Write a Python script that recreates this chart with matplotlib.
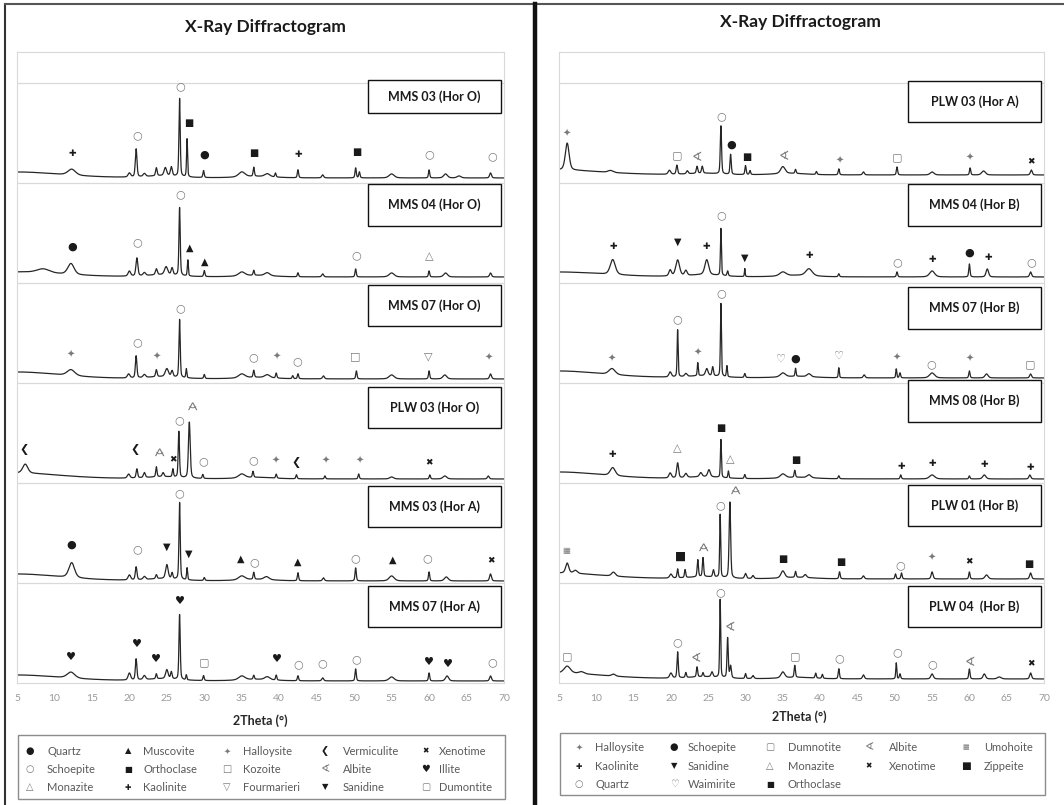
import numpy as np
import matplotlib.pyplot as plt
from matplotlib.patches import Rectangle
from matplotlib.lines import Line2D

plt.rcParams['font.family'] = ['Lato', 'DejaVu Sans']

####################################################
# Data
# peaks: (2theta, height above base, half width) ; first entries = low angle rise / humps
# marks: (mineral, 2theta, height above the trace's grid line)

ticks_2theta = [5, 10, 15, 20, 25, 30, 35, 40, 45, 50, 55, 60, 65, 70]

# ---- left panel, top to bottom
left_samples = ['MMS 03 (Hor O)', 'MMS 04 (Hor O)', 'MMS 07 (Hor O)',
                'PLW 03 (Hor O)', 'MMS 03 (Hor A)', 'MMS 07 (Hor A)']
left_base = [0.05, 0.06, 0.04, 0.04, 0.02, 0.02]

mms03_o_peaks = [(5, 0.06, 7), (24.5, 0.02, 2.5), (37, 0.015, 2.5),
                 (12.3, 0.06, 0.6), (20.0, 0.04, 0.2), (20.9, 0.28, 0.13),
                 (22.0, 0.03, 0.2), (23.6, 0.08, 0.12), (24.8, 0.08, 0.2), (25.6, 0.09, 0.15),
                 (26.7, 0.78, 0.1), (27.7, 0.38, 0.08), (29.9, 0.07, 0.1), (35.0, 0.05, 0.5),
                 (36.6, 0.09, 0.1), (38.4, 0.03, 0.4), (39.5, 0.04, 0.1), (42.5, 0.08, 0.1),
                 (45.8, 0.03, 0.15), (50.2, 0.1, 0.1), (50.7, 0.06, 0.1), (55.0, 0.04, 0.4),
                 (60.0, 0.08, 0.1), (62.2, 0.04, 0.3), (64.0, 0.02, 0.3), (68.2, 0.05, 0.15)]
mms03_o_marks = [('Kaolinite', 12.4, 0.30), ('Schoepite', 21.0, 0.48), ('Schoepite', 26.8, 0.97),
                 ('Orthoclase', 27.9, 0.60), ('Quartz', 30.0, 0.28), ('Orthoclase', 36.6, 0.30),
                 ('Kaolinite', 42.6, 0.28), ('Orthoclase', 50.3, 0.31), ('Schoepite', 60.0, 0.29),
                 ('Schoepite', 68.4, 0.27)]

mms04_o_peaks = [(5, 0.05, 7), (24.5, 0.02, 2.5), (37, 0.015, 2.5),
                 (8.5, 0.04, 1.0), (12.2, 0.11, 0.5), (20.0, 0.05, 0.2),
                 (21.0, 0.18, 0.15), (22.0, 0.03, 0.2), (23.6, 0.06, 0.15), (24.9, 0.08, 0.25),
                 (25.7, 0.07, 0.15), (26.7, 0.68, 0.1), (27.8, 0.16, 0.08), (30.0, 0.06, 0.1),
                 (35.0, 0.04, 0.5), (36.6, 0.05, 0.1), (38.4, 0.03, 0.4), (42.5, 0.04, 0.1),
                 (45.8, 0.03, 0.15), (50.2, 0.08, 0.1), (55.0, 0.04, 0.4), (60.0, 0.06, 0.1),
                 (62.2, 0.04, 0.3), (68.2, 0.04, 0.15)]
mms04_o_marks = [('Quartz', 12.4, 0.36), ('Schoepite', 21.0, 0.41), ('Schoepite', 26.8, 0.89),
                 ('Muscovite', 28.0, 0.35), ('Muscovite', 30.0, 0.21), ('Schoepite', 50.3, 0.28),
                 ('Monazite', 60.0, 0.27)]

mms07_o_peaks = [(5, 0.07, 7), (24.5, 0.02, 2.5), (37, 0.015, 2.5),
                 (12.2, 0.06, 0.6), (19.9, 0.04, 0.2), (20.9, 0.22, 0.12),
                 (22.0, 0.03, 0.2), (23.6, 0.07, 0.12), (25.0, 0.08, 0.25), (25.7, 0.06, 0.15),
                 (26.7, 0.58, 0.1), (27.6, 0.09, 0.08), (30.0, 0.04, 0.1), (35.0, 0.04, 0.5),
                 (36.6, 0.07, 0.1), (38.4, 0.03, 0.4), (39.6, 0.05, 0.1), (41.8, 0.03, 0.1),
                 (42.5, 0.05, 0.1), (45.9, 0.03, 0.15), (50.3, 0.08, 0.1), (55.0, 0.04, 0.4),
                 (60.0, 0.08, 0.1), (62.1, 0.04, 0.3), (68.2, 0.05, 0.15)]
mms07_o_marks = [('Halloysite', 12.2, 0.28), ('Schoepite', 21.0, 0.41), ('Halloysite', 23.6, 0.26),
                 ('Schoepite', 26.8, 0.75), ('Schoepite', 36.6, 0.26), ('Halloysite', 39.7, 0.26),
                 ('Schoepite', 42.4, 0.22), ('Kozoite', 50.2, 0.27), ('Fourmarieri', 59.9, 0.27),
                 ('Halloysite', 68.0, 0.25)]

plw03_o_peaks = [(5, 0.06, 7), (24.5, 0.02, 2.5), (37, 0.015, 2.5),
                 (6.1, 0.09, 0.4), (19.9, 0.04, 0.2), (21.0, 0.09, 0.12),
                 (22.0, 0.05, 0.15), (23.6, 0.1, 0.1), (24.5, 0.04, 0.15), (25.8, 0.08, 0.1),
                 (26.6, 0.46, 0.1), (28.0, 0.56, 0.14), (29.8, 0.04, 0.1), (35.0, 0.04, 0.5),
                 (36.5, 0.06, 0.1), (39.6, 0.04, 0.1), (42.3, 0.04, 0.1), (46.1, 0.03, 0.1),
                 (50.6, 0.05, 0.1), (55.0, 0.02, 0.3), (60.1, 0.04, 0.1), (62.1, 0.03, 0.3),
                 (67.9, 0.03, 0.15)]
plw03_o_marks = [('Vermiculite', 6.0, 0.34), ('Vermiculite', 20.8, 0.34), ('Albite', 23.6, 0.31),
                 ('Xenotime', 25.8, 0.23), ('Schoepite', 26.6, 0.63), ('Albite', 28.0, 0.77),
                 ('Schoepite', 29.9, 0.22), ('Schoepite', 36.6, 0.23), ('Halloysite', 39.5, 0.22),
                 ('Vermiculite', 42.2, 0.20), ('Halloysite', 46.2, 0.22), ('Halloysite', 50.7, 0.22),
                 ('Xenotime', 60.0, 0.20)]

mms03_a_peaks = [(5, 0.07, 7), (24.5, 0.02, 2.5), (37, 0.015, 2.5),
                 (12.3, 0.15, 0.45), (20.0, 0.05, 0.2), (20.9, 0.13, 0.13),
                 (22.0, 0.03, 0.2), (23.6, 0.04, 0.12), (25.0, 0.14, 0.2), (25.7, 0.06, 0.12),
                 (26.7, 0.77, 0.1), (27.7, 0.12, 0.08), (30.0, 0.03, 0.1), (35.0, 0.04, 0.5),
                 (36.6, 0.07, 0.1), (38.3, 0.03, 0.4), (42.5, 0.08, 0.1), (45.9, 0.03, 0.15),
                 (50.2, 0.13, 0.1), (55.0, 0.05, 0.4), (60.0, 0.09, 0.1), (62.3, 0.04, 0.3),
                 (68.2, 0.07, 0.15)]
mms03_a_marks = [('Quartz', 12.3, 0.38), ('Schoepite', 21.0, 0.34), ('Sanidine', 25.0, 0.36),
                 ('Schoepite', 26.7, 0.90), ('Sanidine', 27.9, 0.29), ('Muscovite', 34.9, 0.24),
                 ('Schoepite', 36.7, 0.21), ('Muscovite', 42.5, 0.21), ('Schoepite', 50.2, 0.25),
                 ('Muscovite', 55.2, 0.23), ('Schoepite', 59.8, 0.25), ('Xenotime', 68.3, 0.22)]

mms07_a_peaks = [(5, 0.06, 7), (24.5, 0.02, 2.5), (37, 0.015, 2.5),
                 (12.2, 0.06, 0.6), (20.0, 0.07, 0.2), (20.9, 0.21, 0.12),
                 (22.0, 0.04, 0.2), (23.6, 0.05, 0.1), (25.0, 0.09, 0.2), (25.6, 0.07, 0.12),
                 (26.7, 0.65, 0.1), (27.6, 0.05, 0.08), (29.9, 0.05, 0.1), (35.0, 0.04, 0.5),
                 (36.6, 0.04, 0.1), (38.4, 0.03, 0.4), (39.6, 0.05, 0.1), (42.5, 0.05, 0.1),
                 (45.8, 0.03, 0.15), (50.2, 0.12, 0.1), (55.0, 0.04, 0.4), (60.0, 0.08, 0.1),
                 (62.4, 0.05, 0.25), (68.2, 0.05, 0.15)]
mms07_a_marks = [('Illite', 12.2, 0.26), ('Illite', 21.0, 0.39), ('Illite', 23.6, 0.24),
                 ('Illite', 26.8, 0.82), ('Dumontite', 30.0, 0.21), ('Illite', 39.7, 0.24),
                 ('Schoepite', 42.6, 0.19), ('Schoepite', 45.8, 0.20), ('Schoepite', 50.3, 0.24),
                 ('Illite', 60.0, 0.21), ('Illite', 62.5, 0.19), ('Schoepite', 68.4, 0.21)]

left_peaks = [mms03_o_peaks, mms04_o_peaks, mms07_o_peaks, plw03_o_peaks, mms03_a_peaks, mms07_a_peaks]
left_marks = [mms03_o_marks, mms04_o_marks, mms07_o_marks, plw03_o_marks, mms03_a_marks, mms07_a_marks]

# ---- right panel, top to bottom
right_samples = ['PLW 03 (Hor A)', 'MMS 04 (Hor B)', 'MMS 07 (Hor B)',
                 'MMS 08 (Hor B)', 'PLW 01 (Hor B)', 'PLW 04  (Hor B)']
right_base = [0.08, 0.06, 0.05, 0.04, 0.04, 0.04]

plw03_a_peaks = [(5, 0.05, 7), (24.5, 0.015, 2.5), (36, 0.015, 2.5),
                 (6.1, 0.27, 0.3), (11.9, 0.02, 0.4), (19.8, 0.04, 0.2),
                 (20.8, 0.09, 0.12), (22.2, 0.03, 0.15), (23.5, 0.07, 0.12), (24.2, 0.07, 0.12),
                 (26.7, 0.48, 0.1), (28.0, 0.2, 0.1), (30.0, 0.09, 0.1), (30.6, 0.04, 0.1),
                 (35.0, 0.07, 0.35), (36.7, 0.04, 0.1), (39.5, 0.03, 0.1), (42.5, 0.06, 0.1),
                 (45.8, 0.03, 0.15), (50.3, 0.08, 0.1), (55.0, 0.03, 0.3), (60.1, 0.07, 0.1),
                 (61.9, 0.04, 0.3), (68.3, 0.05, 0.15)]
plw03_a_marks = [('Halloysite', 6.0, 0.49), ('Dumnotite', 20.8, 0.28), ('Albite', 23.5, 0.26),
                 ('Quartz', 26.7, 0.67), ('Schoepite', 28.1, 0.38), ('Orthoclase', 30.1, 0.26),
                 ('Albite', 35.1, 0.27), ('Halloysite', 42.6, 0.22), ('Dumnotite', 50.3, 0.26),
                 ('Halloysite', 60.1, 0.25), ('Xenotime', 68.3, 0.21)]

mms04_b_peaks = [(5, 0.05, 7), (24.5, 0.02, 2.5), (37, 0.015, 2.5),
                 (12.2, 0.15, 0.4), (19.9, 0.06, 0.2), (20.9, 0.16, 0.3),
                 (22.0, 0.05, 0.2), (24.8, 0.15, 0.3), (26.7, 0.47, 0.08), (27.6, 0.05, 0.1),
                 (29.9, 0.08, 0.06), (35.0, 0.04, 0.5), (38.5, 0.07, 0.5), (42.5, 0.03, 0.1),
                 (50.3, 0.05, 0.1), (55.0, 0.06, 0.4), (60.0, 0.13, 0.1), (62.4, 0.08, 0.2),
                 (68.2, 0.05, 0.15)]
mms04_b_marks = [('Kaolinite', 12.3, 0.36), ('Sanidine', 20.9, 0.41), ('Kaolinite', 24.7, 0.36),
                 ('Quartz', 26.7, 0.68), ('Sanidine', 29.9, 0.25), ('Kaolinite', 38.5, 0.27),
                 ('Quartz', 50.3, 0.21), ('Kaolinite', 55.0, 0.23), ('Schoepite', 60.0, 0.30),
                 ('Kaolinite', 62.5, 0.25), ('Quartz', 68.3, 0.21)]

mms07_b_peaks = [(5, 0.07, 7), (24.5, 0.02, 2.5), (37, 0.015, 2.5),
                 (12.1, 0.06, 0.5), (19.9, 0.05, 0.2), (20.9, 0.47, 0.08),
                 (22.0, 0.03, 0.2), (23.6, 0.13, 0.08), (24.8, 0.07, 0.2), (25.6, 0.09, 0.12),
                 (26.7, 0.73, 0.08), (27.5, 0.11, 0.08), (29.9, 0.04, 0.1), (35.0, 0.04, 0.4),
                 (36.7, 0.08, 0.08), (38.5, 0.03, 0.3), (42.5, 0.1, 0.08), (45.9, 0.03, 0.15),
                 (50.2, 0.09, 0.08), (50.7, 0.05, 0.1), (55.0, 0.05, 0.4), (60.0, 0.07, 0.1),
                 (62.3, 0.04, 0.25), (68.2, 0.04, 0.15)]
mms07_b_marks = [('Halloysite', 12.1, 0.24), ('Quartz', 20.9, 0.64), ('Halloysite', 23.6, 0.30),
                 ('Quartz', 26.7, 0.90), ('Waimirite', 34.8, 0.24), ('Schoepite', 36.7, 0.24),
                 ('Waimirite', 42.5, 0.27), ('Halloysite', 50.2, 0.25), ('Quartz', 54.9, 0.19),
                 ('Halloysite', 60.0, 0.24), ('Dumnotite', 68.2, 0.19)]

mms08_b_peaks = [(5, 0.07, 7), (24.5, 0.02, 2.5), (37, 0.015, 2.5),
                 (12.2, 0.08, 0.4), (19.9, 0.05, 0.2), (20.9, 0.15, 0.15),
                 (22.0, 0.04, 0.2), (24.0, 0.04, 0.2), (25.1, 0.07, 0.2), (26.7, 0.38, 0.08),
                 (27.7, 0.07, 0.08), (29.9, 0.04, 0.1), (35.0, 0.04, 0.4), (36.6, 0.07, 0.1),
                 (38.5, 0.03, 0.3), (42.5, 0.03, 0.1), (50.8, 0.04, 0.1), (55.0, 0.04, 0.4),
                 (60.0, 0.03, 0.1), (62.0, 0.04, 0.25), (68.1, 0.04, 0.15)]
mms08_b_marks = [('Kaolinite', 12.1, 0.29), ('Monazite', 20.9, 0.35), ('Orthoclase', 26.7, 0.55),
                 ('Monazite', 28.0, 0.24), ('Orthoclase', 36.7, 0.23), ('Kaolinite', 50.9, 0.17),
                 ('Kaolinite', 55.0, 0.20), ('Kaolinite', 62.0, 0.19), ('Kaolinite', 68.1, 0.16)]

plw01_b_peaks = [(5, 0.06, 7), (24.5, 0.02, 2.5), (37, 0.015, 2.5),
                 (6.1, 0.1, 0.25), (7.2, 0.03, 0.3), (12.3, 0.04, 0.3),
                 (20.0, 0.04, 0.2), (20.9, 0.09, 0.1), (21.9, 0.08, 0.1), (23.6, 0.17, 0.1),
                 (24.3, 0.19, 0.1), (25.7, 0.07, 0.12), (26.6, 0.63, 0.08), (27.9, 0.76, 0.12),
                 (30.0, 0.05, 0.15), (31.0, 0.03, 0.15), (35.0, 0.07, 0.3), (36.7, 0.06, 0.1),
                 (38.0, 0.03, 0.2), (42.6, 0.07, 0.1), (45.8, 0.03, 0.15), (50.1, 0.05, 0.1),
                 (50.9, 0.06, 0.1), (55.0, 0.07, 0.15), (60.0, 0.07, 0.1), (62.3, 0.04, 0.25),
                 (68.2, 0.06, 0.15)]
plw01_b_marks = [('Umohoite', 6.0, 0.33), ('Zippeite', 21.3, 0.27), ('Albite', 23.9, 0.36),
                 ('Quartz', 26.6, 0.78), ('Albite', 28.2, 0.93), ('Orthoclase', 35.0, 0.24),
                 ('Orthoclase', 42.7, 0.21), ('Quartz', 50.7, 0.18), ('Halloysite', 55.0, 0.25),
                 ('Xenotime', 60.0, 0.21), ('Orthoclase', 68.0, 0.19)]

plw04_b_peaks = [(5, 0.06, 7), (24.5, 0.02, 2.5), (37, 0.015, 2.5),
                 (6.1, 0.07, 0.5), (8.0, 0.02, 0.4), (12.3, 0.02, 0.3),
                 (20.0, 0.05, 0.2), (20.9, 0.26, 0.1), (22.0, 0.05, 0.1), (23.5, 0.1, 0.1),
                 (24.3, 0.04, 0.1), (25.5, 0.05, 0.15), (26.6, 0.78, 0.08), (27.6, 0.4, 0.1),
                 (28.0, 0.12, 0.12), (30.0, 0.05, 0.1), (31.0, 0.03, 0.15), (35.0, 0.06, 0.3),
                 (36.6, 0.12, 0.1), (39.4, 0.05, 0.1), (40.3, 0.04, 0.1), (42.5, 0.1, 0.1),
                 (45.8, 0.04, 0.15), (50.2, 0.16, 0.08), (50.7, 0.05, 0.1), (55.0, 0.05, 0.2),
                 (60.0, 0.1, 0.1), (62.0, 0.05, 0.2), (64.0, 0.02, 0.3), (68.2, 0.06, 0.15)]
plw04_b_marks = [('Dumnotite', 6.1, 0.27), ('Quartz', 20.9, 0.41), ('Albite', 23.4, 0.25),
                 ('Quartz', 26.6, 0.91), ('Albite', 27.9, 0.56), ('Dumnotite', 36.6, 0.27),
                 ('Quartz', 42.5, 0.25), ('Quartz', 50.3, 0.31), ('Quartz', 55.0, 0.19),
                 ('Albite', 60.0, 0.21), ('Xenotime', 68.2, 0.19)]

right_peaks = [plw03_a_peaks, mms04_b_peaks, mms07_b_peaks, mms08_b_peaks, plw01_b_peaks, plw04_b_peaks]
right_marks = [plw03_a_marks, mms04_b_marks, mms07_b_marks, mms08_b_marks, plw01_b_marks, plw04_b_marks]

# legends (column by column, 3 rows)
left_legend = ['Quartz', 'Schoepite', 'Monazite', 'Muscovite', 'Orthoclase', 'Kaolinite',
               'Halloysite', 'Kozoite', 'Fourmarieri', 'Vermiculite', 'Albite', 'Sanidine',
               'Xenotime', 'Illite', 'Dumontite']
right_legend = ['Halloysite', 'Kaolinite', 'Quartz', 'Schoepite', 'Sanidine', 'Waimirite',
                'Dumnotite', 'Monazite', 'Orthoclase', 'Albite', 'Xenotime', None,
                'Umohoite', 'Zippeite', None]

####################################################
# Symbol styles: glyph, colour, size
BLK, GRY = '#1a1a1a', '#7a7a7a'
sym = {'Quartz': ('●', BLK, 8), 'Schoepite': ('○', GRY, 8), 'Monazite': ('△', GRY, 8),
       'Muscovite': ('▲', BLK, 7), 'Orthoclase': ('■', BLK, 7), 'Kaolinite': ('✚', BLK, 6.5),
       'Halloysite': ('✦', GRY, 7), 'Kozoite': ('□', GRY, 8), 'Fourmarieri': ('▽', GRY, 8),
       'Vermiculite': ('❮', BLK, 8), 'Albite': ('∢', GRY, 9), 'Sanidine': ('▼', BLK, 7),
       'Xenotime': ('✖', BLK, 6.5), 'Illite': ('♥', BLK, 8), 'Dumontite': ('▢', GRY, 8),
       'Dumnotite': ('▢', GRY, 8), 'Waimirite': ('♡', GRY, 8), 'Umohoite': ('▦', GRY, 6),
       'Zippeite': ('■', BLK, 8.5)}
# right panel swaps quartz/schoepite glyphs
sym_right = dict(sym)
sym_right['Quartz'] = ('○', GRY, 8)
sym_right['Schoepite'] = ('●', BLK, 8)
# albite marks drawn upright on these samples
upright_albite = {'PLW 03 (Hor O)': [23.6, 28.0], 'PLW 01 (Hor B)': [23.9, 28.2]}

W, H = 1064, 805
fig = plt.figure(figsize=(W / 100, H / 100), dpi=100)
x = np.linspace(5, 70, 3251)


def profile(peaks):
    y = np.zeros_like(x)
    for p, h, w in peaks:
        t = ((x - p) / w) ** 2
        y += h * (0.6 * np.exp(-np.log(2) * t) + 0.4 / (1 + t))
    return y


def panel(left_px, right_px, samples, base, peaks, marks, styles, box_tops, box_hgt, box_x):
    ax = fig.add_axes([left_px / W, (H - 683) / H, (right_px - left_px) / W, (683 - 52) / H])
    n = len(samples)
    for i in range(n):
        k = n - 1 - i
        ax.plot(x, k + base[i] + profile(peaks[i]), color='#262626', lw=0.9, zorder=2)
        for name, pos, h in marks[i]:
            g, c, s = styles[name]
            rot = -90 if pos in upright_albite.get(samples[i], []) else 0
            ax.text(pos, k + h, g, color=c, fontsize=s, ha='center', va='center',
                    family='DejaVu Sans', rotation=rot, zorder=4)
        top = k + box_tops[i]
        hgt = box_hgt[i]
        ax.add_patch(Rectangle((box_x[0], top - hgt), box_x[1] - box_x[0], hgt,
                               facecolor='white', edgecolor='#111111', lw=1.0, zorder=5))
        ax.text((box_x[0] + box_x[1]) / 2, top - hgt / 2, samples[i], fontsize=9,
                fontweight='bold', ha='center', va='center', color='#1a1a1a', zorder=6)
    ax.set_xlim(5, 70)
    ax.set_ylim(0, 6.31)
    ax.set_xticks(ticks_2theta)
    ax.set_yticks(range(1, 7))
    ax.set_yticklabels([])
    ax.tick_params(length=0, labelsize=7.5, labelcolor='#9a9a9a', pad=8)
    ax.grid(axis='y', color='#d9d9d9', lw=0.9)
    for s in ax.spines.values():
        s.set_color('#d9d9d9')
    return ax


panel(17, 504, left_samples, left_base, left_peaks, left_marks, sym,
      [1.03, 0.99, 0.98, 0.96, 0.97, 0.97], [0.33, 0.42, 0.41, 0.41, 0.41, 0.41], (51.9, 69.6))
panel(559, 1044, right_samples, right_base, right_peaks, right_marks, sym_right,
      [1.02, 0.99, 0.96, 1.03, 0.98, 0.97], [0.41, 0.42, 0.42, 0.42, 0.41, 0.41], (51.8, 69.6))

# titles and axis labels
fig.text(265 / W, 1 - 27 / H, 'X-Ray Diffractogram', fontsize=12.5, fontweight='bold',
         ha='center', va='center', color='#1a1a1a')
fig.text(800 / W, 1 - 22 / H, 'X-Ray Diffractogram', fontsize=12.5, fontweight='bold',
         ha='center', va='center', color='#1a1a1a')
fig.text(260 / W, 1 - 721 / H, '2Theta (°)', fontsize=9, fontweight='bold',
         ha='center', va='center', color='#262626')
fig.text(799 / W, 1 - 717 / H, '2Theta (°)', fontsize=9, fontweight='bold',
         ha='center', va='center', color='#262626')


def legend_box(x0, x1, y0, y1, names, styles, sym_x, txt_x, rows_y):
    fig.add_artist(Rectangle((x0 / W, 1 - y1 / H), (x1 - x0) / W, (y1 - y0) / H,
                             transform=fig.transFigure, fill=False, edgecolor='#8c8c8c', lw=1))
    for j, name in enumerate(names):
        if name is None:
            continue
        col, row = j // 3, j % 3
        g, c, s = styles[name]
        fig.text(sym_x[col] / W, 1 - rows_y[row] / H, g, color=c, fontsize=s - 1,
                 ha='center', va='center', family='DejaVu Sans')
        fig.text(txt_x[col] / W, 1 - rows_y[row] / H, name, color='#595959', fontsize=8,
                 ha='left', va='center')


legend_box(18, 505, 735, 799, left_legend, sym,
           [30, 128, 227, 325, 426], [47, 143, 243, 343, 439], [751, 769, 787])
legend_box(560, 1045, 733, 795, right_legend, sym_right,
           [579, 674, 770, 869, 966], [595, 688, 788, 889, 984], [747, 766, 784])

# outer frame lines
fig.add_artist(Line2D([5 / W, 5 / W], [0, 1 - 4 / H], color='#333333', lw=1.5))
fig.add_artist(Line2D([5 / W, 1], [1 - 4 / H, 1 - 4 / H], color='#555555', lw=1.5))
fig.add_artist(Line2D([535 / W, 535 / W], [0, 1 - 4 / H], color='#111111', lw=3.2))

fig.savefig('out.png', dpi=100)
